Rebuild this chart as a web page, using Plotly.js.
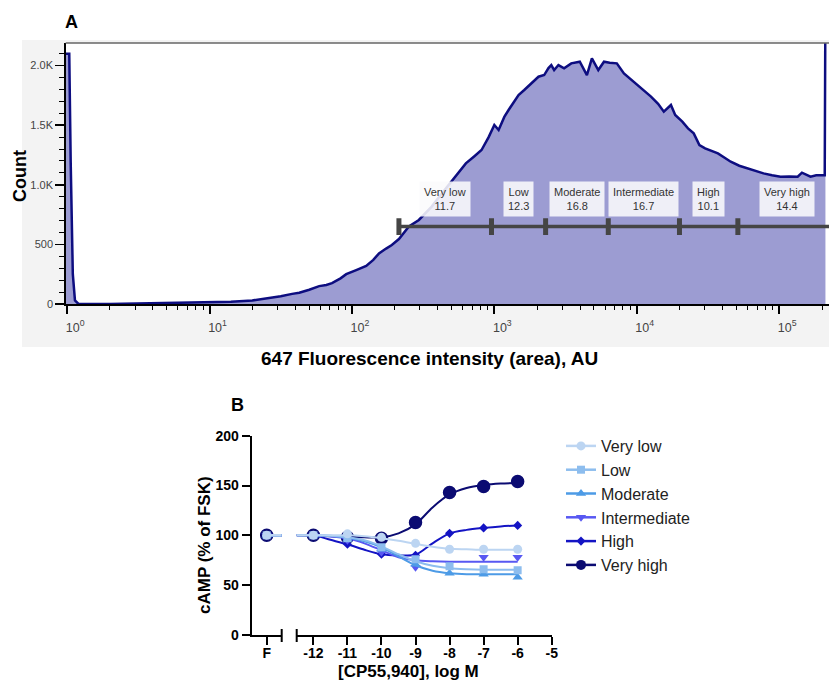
<!DOCTYPE html>
<html>
<head>
<meta charset="utf-8">
<script src="https://cdn.plot.ly/plotly-3.0.1.min.js"></script>
<style>html,body{margin:0;padding:0;background:#fff;}#chart{width:829px;height:681px;}</style>
</head>
<body>
<div id="chart"></div>
<script>
// ---------- Panel A: flow cytometry histogram ----------
const histLog10 = [-0.01,0.015,0.025,0.04,0.055,0.08,0.3,0.5,0.7,0.9,1.0,1.15,1.3,1.4,1.5,1.58,1.63,1.7,1.77,1.82,1.86,1.92,1.96,2.03,2.10,2.15,2.19,2.24,2.28,2.33,2.40,2.47,2.52,2.56,2.62,2.68,2.74,2.80,2.86,2.91,2.96,3.00,3.03,3.07,3.10,3.17,3.21,3.26,3.31,3.35,3.38,3.40,3.42,3.45,3.49,3.54,3.60,3.65,3.685,3.73,3.77,3.81,3.86,3.91,3.96,4.01,4.05,4.10,4.15,4.19,4.24,4.27,4.32,4.36,4.40,4.44,4.48,4.52,4.57,4.62,4.66,4.72,4.78,4.84,4.89,4.95,5.01,5.07,5.13,5.16,5.19,5.22,5.26,5.29,5.32,5.325];
const histCount = [2100,2100,1200,250,30,0,0,3,5,8,12,18,30,45,65,85,95,120,150,160,175,215,250,285,320,370,425,465,495,545,650,705,770,817,910,1000,1090,1180,1240,1292,1400,1502,1460,1570,1628,1754,1796,1850,1907,1921,1980,2005,1963,2005,1977,2019,2033,1921,2061,1963,2033,2025,2019,1935,1885,1837,1790,1740,1680,1614,1670,1586,1530,1474,1432,1334,1306,1285,1264,1225,1194,1160,1138,1110,1096,1080,1068,1070,1068,1102,1085,1068,1080,1082,1080,2600];
const gateNames = ["Very low","Low","Moderate","Intermediate","High","Very high"];
const gatePercent = ["11.7","12.3","16.8","16.7","10.1","14.4"];
const gateEdgesLog10 = [2.33,2.98,3.36,3.80,4.30,4.71,5.40];
const gateLevel = 650;
const gateLabelLevel = 877;
const histTickVals = [1,10,100,1000,10000,100000];
const histTickText = ["10<sup>0</sup>","10<sup>1</sup>","10<sup>2</sup>","10<sup>3</sup>","10<sup>4</sup>","10<sup>5</sup>"];
const countTickVals = [0,500,1000,1500,2000];
const countTickText = ["0","500","1.0K","1.5K","2.0K"];

// ---------- Panel B: cAMP concentration-response ----------
const seriesNames = ["Very low","Low","Moderate","Intermediate","High","Very high"];
const doseLogM = [-12,-11,-10,-9,-8,-7,-6];
const fskValue = [100,100,100,100,100,100];
const markerValues = [
  [100,101.5,98,92,86,86,86],
  [100,97,88,76,69,66,65],
  [100,96,86,71,62,61,58],
  [100,95,83,68,72,78,78],
  [100,91,81,80,102,107.5,110],
  [100,98,97,113,143,149,154]
];
const fitLogM = [-12.5,-12,-11.5,-11,-10.5,-10,-9.5,-9,-8.5,-8,-7.5,-7,-6.5,-6];
const fitValues = [
  [100,100,100,100,99,97,94.5,91.5,88.5,86.5,86,85.5,85.5,85.5],
  [100,100,99.5,98,95,89,81,74,69.5,67,66,65.5,65.5,65.5],
  [100,100,99.5,97.5,94,88,79,70,64.5,62,61,61,61,61],
  [100,100,99,97,92,85,78,75,74,73.5,73.5,73.5,73.5,73.5],
  [100,100,95.5,91,85.5,81,80,80.5,92,102,105.5,107.5,109,110],
  [100,99.5,99,98.5,98,98,102,111,128,141,147.5,150.5,152,152.5]
];
const bTickVals = [-12,-11,-10,-9,-8,-7,-6,-5];
const bTickText = ["-12","-11","-10","-9","-8","-7","-6","-5"];
const camptickVals = [0,50,100,150,200];

// styles
const colors = ["#bcd5f2","#8dbdee","#4d9be6","#5858f2","#1414c4","#0b0b72"];
const symbols = ["circle","square","triangle-up","triangle-down","diamond","circle"];
const sizes = [9,8,9,9,7,12];

const W = 829, H = 681;
const px = x => x / W;
const py = y => 1 - y / H;
const FONT = "Liberation Sans, Arial, sans-serif";

const traces = [];

// Histogram
traces.push({
  x: histLog10.map(v => Math.pow(10, v)), y: histCount,
  xaxis: "x3", yaxis: "y3", type: "scatter", mode: "lines",
  fill: "tozeroy", fillcolor: "rgb(156,156,210)",
  line: {color: "#0d0d80", width: 2.5}, showlegend: false, hoverinfo: "skip"
});
// Gate bar
traces.push({
  x: gateEdgesLog10.map(v => Math.pow(10, v)), y: gateEdgesLog10.map(() => gateLevel),
  xaxis: "x3", yaxis: "y3", type: "scatter", mode: "lines+markers",
  line: {color: "#454545", width: 3.5},
  marker: {symbol: "line-ns", size: 12, line: {color: "#454545", width: 5}},
  showlegend: false, hoverinfo: "skip"
});

// Legend entries (in legend order)
for (let i = 0; i < 6; i++) {
  traces.push({
    x: [null], y: [null], xaxis: "x2", yaxis: "y", type: "scatter", mode: "lines+markers",
    name: seriesNames[i], line: {color: colors[i], width: 2.5},
    marker: {color: colors[i], symbol: symbols[i], size: Math.min(sizes[i], 10)},
    showlegend: true
  });
}
// Data traces drawn from Very high (bottom) to Very low (top)
for (let i = 5; i >= 0; i--) {
  traces.push({
    x: [0, 1], y: [fskValue[i], fskValue[i]], xaxis: "x", yaxis: "y",
    type: "scatter", mode: "lines", line: {color: colors[i], width: 2.5},
    showlegend: false, hoverinfo: "skip"
  });
  traces.push({
    x: [0], y: [fskValue[i]], xaxis: "x", yaxis: "y",
    type: "scatter", mode: "markers",
    marker: {color: colors[i], symbol: symbols[i], size: sizes[i],
             line: {color: i === 5 ? "#0b0b72" : colors[i], width: i === 5 ? 1.5 : 0}},
    showlegend: false, hoverinfo: "skip"
  });
  traces.push({
    x: fitLogM, y: fitValues[i], xaxis: "x2", yaxis: "y",
    type: "scatter", mode: "lines", line: {color: colors[i], width: 2, shape: "spline", smoothing: 0.8},
    showlegend: false, hoverinfo: "skip"
  });
  traces.push({
    x: doseLogM, y: markerValues[i], xaxis: "x2", yaxis: "y",
    type: "scatter", mode: "markers",
    marker: {color: colors[i], symbol: symbols[i], size: sizes[i],
             line: {color: i === 5 ? "#0b0b72" : colors[i], width: i === 5 ? 1.5 : 0}},
    showlegend: false, hoverinfo: "skip"
  });
}

// Minor ticks on log axis
const minorVals = [];
for (let d = 0; d <= 5; d++) for (let k = 2; k <= 9; k++) minorVals.push(k * Math.pow(10, d));

const annotations = [];
// Gate labels
for (let g = 0; g < gateNames.length; g++) {
  annotations.push({
    xref: "x3", yref: "y3",
    x: (gateEdgesLog10[g] + gateEdgesLog10[g + 1]) / 2, y: gateLabelLevel,
    xanchor: "center", yanchor: "middle",
    text: gateNames[g] + "<br>" + gatePercent[g], showarrow: false,
    font: {family: FONT, size: 11, color: "#333"},
    bgcolor: "rgba(250,250,252,0.88)", borderpad: 4, align: "center"
  });
}
function label(x, y, text, size, angle) {
  return {xref: "paper", yref: "paper", x: px(x), y: py(y), xanchor: "center", yanchor: "middle",
          text: "<b>" + text + "</b>", showarrow: false, textangle: angle || 0,
          font: {family: FONT, size: size, color: "#000"}};
}
annotations.push(
  label(71, 22, "A", 18),
  label(429, 358, "647 Fluorescence intensity (area), AU", 19),
  label(20, 176, "Count", 18, -90),
  label(237, 405, "B", 18),
  label(408, 671, "[CP55,940], log M", 17),
  label(204, 545, "cAMP (% of FSK)", 17, -90)
);

const shapes = [
  {type: "rect", xref: "paper", yref: "paper", x0: px(22), x1: 1, y0: py(347), y1: py(40),
   fillcolor: "#f3f3f3", line: {width: 0}, layer: "below"},
  {type: "rect", xref: "paper", yref: "paper", x0: px(65.7), x1: 1, y0: py(304), y1: py(43),
   fillcolor: "#ffffff", line: {width: 0}, layer: "below"},
  {type: "line", xref: "paper", yref: "paper", x0: px(65.7), x1: 1, y0: py(43), y1: py(43),
   line: {color: "#666", width: 1.5}},
  // axis break marks
  {type: "line", xref: "paper", yref: "paper", x0: px(281.7), x1: px(281.7), y0: py(629), y1: py(642),
   line: {color: "#000", width: 2}},
  {type: "line", xref: "paper", yref: "paper", x0: px(296.7), x1: px(296.7), y0: py(629), y1: py(642),
   line: {color: "#000", width: 2}}
];

const bAxisFont = {family: FONT, size: 14, color: "#000", weight: "bold"};

const layout = {
  width: W, height: H, autosize: false,
  margin: {l: 0, r: 0, t: 0, b: 0, pad: 0},
  paper_bgcolor: "#ffffff", plot_bgcolor: "rgba(0,0,0,0)",
  font: {family: FONT},
  showlegend: true,
  legend: {x: px(561), y: py(429), xanchor: "left", yanchor: "top",
           font: {family: FONT, size: 16, color: "#222"}, bgcolor: "rgba(0,0,0,0)",
           itemwidth: 30, tracegroupgap: 0},
  // Panel A axes
  xaxis3: {type: "log", domain: [px(65.7), 1], anchor: "y3", range: [-0.01, 5.35],
           showline: true, linecolor: "#000", linewidth: 1.5, showgrid: false, zeroline: false,
           tickmode: "array", tickvals: histTickVals, ticktext: histTickText,
           ticks: "outside", ticklen: 8, tickwidth: 2, tickcolor: "#000",
           ticklabelshift: 8, ticklabelstandoff: 3,
           tickfont: {family: FONT, size: 12.5, color: "#444"},
           minor: {tickmode: "array", tickvals: minorVals, ticks: "outside", ticklen: 4, tickwidth: 1, tickcolor: "#000", showgrid: false}},
  yaxis3: {domain: [py(304), py(43)], anchor: "x3", range: [0, 2190],
           showline: true, linecolor: "#000", linewidth: 1.5, showgrid: false, zeroline: false,
           tickmode: "array", tickvals: countTickVals, ticktext: countTickText,
           ticks: "outside", ticklen: 9, tickwidth: 1.5, tickcolor: "#000",
           tickfont: {family: FONT, size: 11, color: "#444"},
           minor: {dtick: 100, ticks: "outside", ticklen: 5, tickwidth: 1, tickcolor: "#000", showgrid: false}},
  // Panel B axes
  xaxis: {domain: [px(251.7), px(281.7)], anchor: "y", range: [-1, 1],
          showline: true, linecolor: "#000", linewidth: 2, showgrid: false, zeroline: false,
          tickmode: "array", tickvals: [0], ticktext: ["F"],
          ticks: "outside", ticklen: 8, tickwidth: 2, tickcolor: "#000", tickfont: bAxisFont,
          ticklabelstandoff: -4},
  xaxis2: {domain: [px(296.7), px(551.7)], anchor: "y", range: [-12.49, -5],
           showline: true, linecolor: "#000", linewidth: 2, showgrid: false, zeroline: false,
           tickmode: "array", tickvals: bTickVals, ticktext: bTickText,
           ticks: "outside", ticklen: 8, tickwidth: 2, tickcolor: "#000", tickfont: bAxisFont,
           ticklabelstandoff: -4},
  yaxis: {domain: [py(635), py(435.7)], anchor: "x", range: [0, 200],
          showline: true, linecolor: "#000", linewidth: 2, showgrid: false, zeroline: false,
          tickmode: "array", tickvals: camptickVals,
          ticks: "outside", ticklen: 8, tickwidth: 2, tickcolor: "#000", tickfont: bAxisFont},
  annotations: annotations,
  shapes: shapes
};

Plotly.newPlot("chart", traces, layout, {displayModeBar: false, staticPlot: true});
</script>
</body>
</html>
